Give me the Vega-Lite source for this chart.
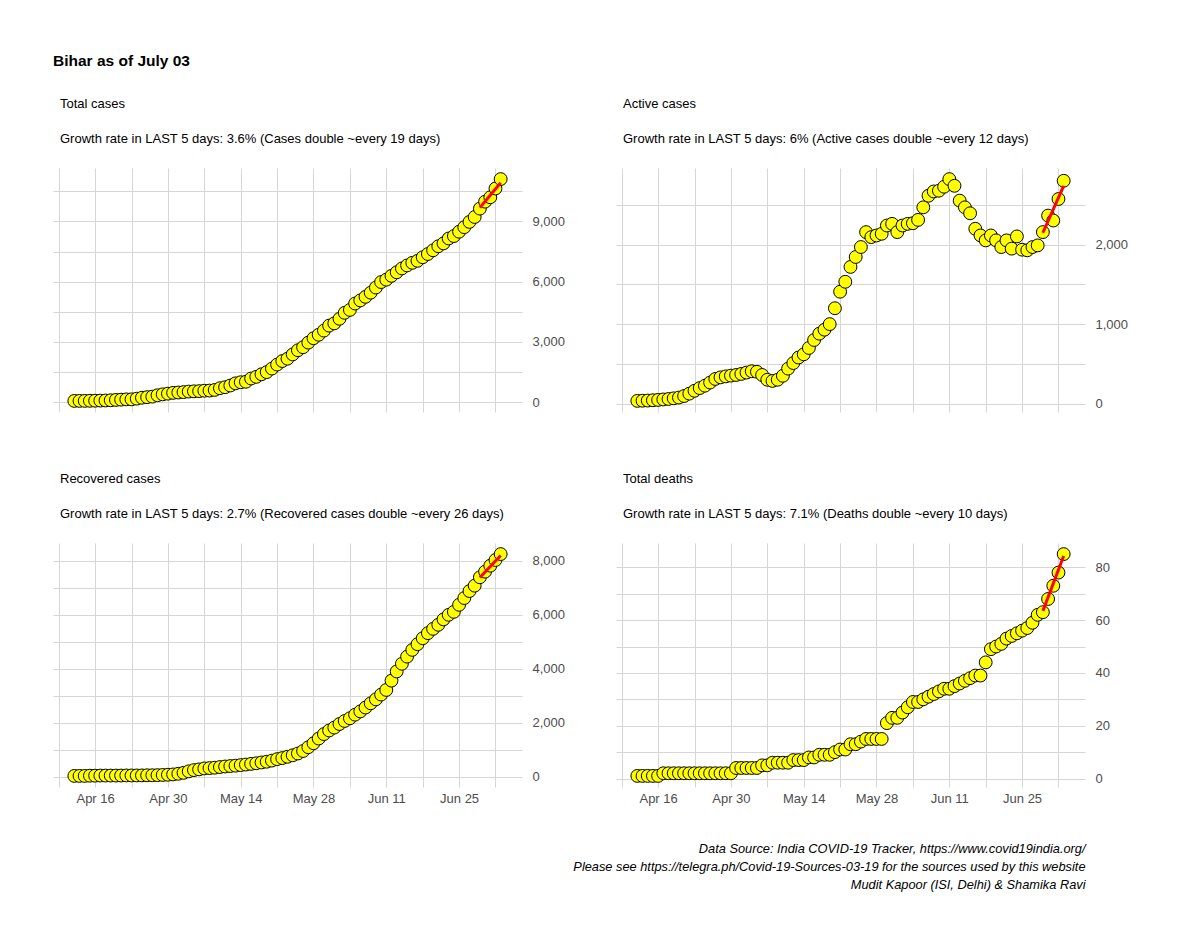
{
  "$schema": "https://vega.github.io/schema/vega-lite/v6.json",
  "background": "white",
  "padding": {"left": 53, "top": 53, "right": 10, "bottom": 10},
  "title": {"text": "Bihar as of July 03", "anchor": "start", "fontSize": 15.5, "fontWeight": "bold", "color": "black", "offset": 29, "dx": 0, "font": "Liberation Sans", "frame": "bounds"},
  "datasets": {
    "main": [
      {"date":"2020-04-12","total":64,"active":34,"recovered":29,"deaths":1},
      {"date":"2020-04-13","total":65,"active":36,"recovered":29,"deaths":1},
      {"date":"2020-04-14","total":66,"active":38,"recovered":29,"deaths":1},
      {"date":"2020-04-15","total":70,"active":42,"recovered":37,"deaths":1},
      {"date":"2020-04-16","total":74,"active":46,"recovered":37,"deaths":1},
      {"date":"2020-04-17","total":80,"active":52,"recovered":42,"deaths":2},
      {"date":"2020-04-18","total":85,"active":58,"recovered":42,"deaths":2},
      {"date":"2020-04-19","total":96,"active":66,"recovered":42,"deaths":2},
      {"date":"2020-04-20","total":113,"active":76,"recovered":42,"deaths":2},
      {"date":"2020-04-21","total":126,"active":95,"recovered":43,"deaths":2},
      {"date":"2020-04-22","total":141,"active":125,"recovered":46,"deaths":2},
      {"date":"2020-04-23","total":143,"active":161,"recovered":46,"deaths":2},
      {"date":"2020-04-24","total":176,"active":195,"recovered":46,"deaths":2},
      {"date":"2020-04-25","total":223,"active":225,"recovered":48,"deaths":2},
      {"date":"2020-04-26","total":251,"active":265,"recovered":53,"deaths":2},
      {"date":"2020-04-27","total":277,"active":310,"recovered":53,"deaths":2},
      {"date":"2020-04-28","total":346,"active":330,"recovered":57,"deaths":2},
      {"date":"2020-04-29","total":392,"active":342,"recovered":64,"deaths":2},
      {"date":"2020-04-30","total":425,"active":352,"recovered":72,"deaths":2},
      {"date":"2020-05-01","total":466,"active":360,"recovered":84,"deaths":4},
      {"date":"2020-05-02","total":482,"active":373,"recovered":108,"deaths":4},
      {"date":"2020-05-03","total":503,"active":390,"recovered":143,"deaths":4},
      {"date":"2020-05-04","total":529,"active":407,"recovered":199,"deaths":4},
      {"date":"2020-05-05","total":542,"active":400,"recovered":244,"deaths":4},
      {"date":"2020-05-06","total":550,"active":360,"recovered":271,"deaths":5},
      {"date":"2020-05-07","total":571,"active":300,"recovered":306,"deaths":5},
      {"date":"2020-05-08","total":579,"active":285,"recovered":319,"deaths":6},
      {"date":"2020-05-09","total":611,"active":300,"recovered":333,"deaths":6},
      {"date":"2020-05-10","total":696,"active":350,"recovered":358,"deaths":6},
      {"date":"2020-05-11","total":747,"active":440,"recovered":378,"deaths":6},
      {"date":"2020-05-12","total":831,"active":510,"recovered":395,"deaths":7},
      {"date":"2020-05-13","total":940,"active":580,"recovered":408,"deaths":7},
      {"date":"2020-05-14","total":994,"active":620,"recovered":430,"deaths":7},
      {"date":"2020-05-15","total":1018,"active":700,"recovered":450,"deaths":8},
      {"date":"2020-05-16","total":1179,"active":800,"recovered":475,"deaths":8},
      {"date":"2020-05-17","total":1262,"active":880,"recovered":498,"deaths":9},
      {"date":"2020-05-18","total":1391,"active":930,"recovered":527,"deaths":9},
      {"date":"2020-05-19","total":1498,"active":1000,"recovered":555,"deaths":9},
      {"date":"2020-05-20","total":1674,"active":1200,"recovered":597,"deaths":10},
      {"date":"2020-05-21","total":1873,"active":1408,"recovered":650,"deaths":11},
      {"date":"2020-05-22","total":2050,"active":1533,"recovered":690,"deaths":11},
      {"date":"2020-05-23","total":2166,"active":1720,"recovered":738,"deaths":13},
      {"date":"2020-05-24","total":2380,"active":1845,"recovered":794,"deaths":13},
      {"date":"2020-05-25","total":2587,"active":1970,"recovered":860,"deaths":14},
      {"date":"2020-05-26","total":2737,"active":2158,"recovered":952,"deaths":15},
      {"date":"2020-05-27","total":2968,"active":2095,"recovered":1092,"deaths":15},
      {"date":"2020-05-28","total":3185,"active":2116,"recovered":1240,"deaths":15},
      {"date":"2020-05-29","total":3359,"active":2137,"recovered":1414,"deaths":15},
      {"date":"2020-05-30","total":3565,"active":2241,"recovered":1579,"deaths":21},
      {"date":"2020-05-31","total":3815,"active":2262,"recovered":1712,"deaths":23},
      {"date":"2020-06-01","total":3926,"active":2158,"recovered":1820,"deaths":23},
      {"date":"2020-06-02","total":4155,"active":2241,"recovered":1952,"deaths":25},
      {"date":"2020-06-03","total":4452,"active":2262,"recovered":2065,"deaths":27},
      {"date":"2020-06-04","total":4596,"active":2270,"recovered":2166,"deaths":29},
      {"date":"2020-06-05","total":4915,"active":2312,"recovered":2298,"deaths":29},
      {"date":"2020-06-06","total":5070,"active":2470,"recovered":2420,"deaths":30},
      {"date":"2020-06-07","total":5247,"active":2616,"recovered":2563,"deaths":31},
      {"date":"2020-06-08","total":5455,"active":2670,"recovered":2720,"deaths":32},
      {"date":"2020-06-09","total":5710,"active":2679,"recovered":2867,"deaths":33},
      {"date":"2020-06-10","total":5983,"active":2729,"recovered":3043,"deaths":34},
      {"date":"2020-06-11","total":6103,"active":2825,"recovered":3215,"deaths":34},
      {"date":"2020-06-12","total":6293,"active":2741,"recovered":3560,"deaths":35},
      {"date":"2020-06-13","total":6470,"active":2554,"recovered":3900,"deaths":36},
      {"date":"2020-06-14","total":6662,"active":2470,"recovered":4185,"deaths":37},
      {"date":"2020-06-15","total":6810,"active":2395,"recovered":4450,"deaths":38},
      {"date":"2020-06-16","total":6942,"active":2200,"recovered":4700,"deaths":39},
      {"date":"2020-06-17","total":7040,"active":2116,"recovered":4910,"deaths":39},
      {"date":"2020-06-18","total":7218,"active":2054,"recovered":5130,"deaths":44},
      {"date":"2020-06-19","total":7380,"active":2116,"recovered":5320,"deaths":49},
      {"date":"2020-06-20","total":7564,"active":2054,"recovered":5480,"deaths":50},
      {"date":"2020-06-21","total":7766,"active":1970,"recovered":5630,"deaths":51},
      {"date":"2020-06-22","total":7910,"active":2054,"recovered":5830,"deaths":53},
      {"date":"2020-06-23","total":8153,"active":1950,"recovered":6000,"deaths":54},
      {"date":"2020-06-24","total":8273,"active":2104,"recovered":6110,"deaths":55},
      {"date":"2020-06-25","total":8490,"active":1937,"recovered":6370,"deaths":56},
      {"date":"2020-06-26","total":8716,"active":1929,"recovered":6620,"deaths":57},
      {"date":"2020-06-27","total":8979,"active":1970,"recovered":6880,"deaths":59},
      {"date":"2020-06-28","total":9224,"active":1991,"recovered":7080,"deaths":62},
      {"date":"2020-06-29","total":9640,"active":2158,"recovered":7390,"deaths":63},
      {"date":"2020-06-30","total":9987,"active":2366,"recovered":7600,"deaths":68},
      {"date":"2020-07-01","total":10205,"active":2304,"recovered":7820,"deaths":73},
      {"date":"2020-07-02","total":10643,"active":2575,"recovered":8030,"deaths":78},
      {"date":"2020-07-03","total":11111,"active":2804,"recovered":8250,"deaths":85}
    ],
    "fit": [
      {"date":"2020-06-29","total":9690,"active":2150,"recovered":7381,"deaths":63.5},
      {"date":"2020-07-03","total":10930,"active":2741,"recovered":8197,"deaths":84.3}
    ]
  },
  "columns": 2,
  "bounds": "flush",
  "spacing": {"row": 131, "column": 94},
  "concat": [
    {
      "width": 469, "height": 244,
      "title": {"text": "Total cases", "subtitle": "Growth rate in LAST 5 days: 3.6% (Cases double ~every 19 days)"},
      "layer": [
        {"data": {"name": "main"},
         "mark": {"type": "circle", "color": "#ffff00", "stroke": "#000000", "strokeWidth": 1, "size": 165, "opacity": 1},
         "encoding": {
           "x": {"field": "date", "type": "temporal",
                 "scale": {"type": "utc", "nice": false, "domain": [{"year":2020,"month":4,"date":7,"hours":21,"minutes":36,"utc":true},{"year":2020,"month":7,"date":7,"hours":2,"minutes":24,"utc":true}]},
                 "axis": {"title": null, "labels": false, "ticks": false, "domain": false, "format": "%b %d", "tickCount": 40,
                          "values": [{"year":2020,"month":4,"date":9,"utc":true},{"year":2020,"month":4,"date":16,"utc":true},{"year":2020,"month":4,"date":23,"utc":true},{"year":2020,"month":4,"date":30,"utc":true},{"year":2020,"month":5,"date":7,"utc":true},{"year":2020,"month":5,"date":14,"utc":true},{"year":2020,"month":5,"date":21,"utc":true},{"year":2020,"month":5,"date":28,"utc":true},{"year":2020,"month":6,"date":4,"utc":true},{"year":2020,"month":6,"date":11,"utc":true},{"year":2020,"month":6,"date":18,"utc":true},{"year":2020,"month":6,"date":25,"utc":true},{"year":2020,"month":7,"date":2,"utc":true}]}},
           "y": {"field": "total", "type": "quantitative",
                 "scale": {"domain": [-488, 11663], "nice": false, "zero": false},
                 "axis": {"orient": "right", "title": null, "values": [0,1500,3000,4500,6000,7500,9000,10500], "format": ",d", "tickCount": 40,
                          "labelExpr": "datum.value % 3000 === 0 ? datum.label : ''"}}
         }},
        {"data": {"name": "fit"},
         "mark": {"type": "line", "color": "#ff0000", "strokeWidth": 3},
         "encoding": {"x": {"field": "date", "type": "temporal"}, "y": {"field": "total", "type": "quantitative"}}}
      ]
    },
    {
      "width": 469, "height": 244,
      "title": {"text": "Active cases", "subtitle": "Growth rate in LAST 5 days: 6% (Active cases double ~every 12 days)"},
      "layer": [
        {"data": {"name": "main"},
         "mark": {"type": "circle", "color": "#ffff00", "stroke": "#000000", "strokeWidth": 1, "size": 165, "opacity": 1},
         "encoding": {
           "x": {"field": "date", "type": "temporal",
                 "scale": {"type": "utc", "nice": false, "domain": [{"year":2020,"month":4,"date":7,"hours":21,"minutes":36,"utc":true},{"year":2020,"month":7,"date":7,"hours":2,"minutes":24,"utc":true}]},
                 "axis": {"title": null, "labels": false, "ticks": false, "domain": false, "format": "%b %d", "tickCount": 40,
                          "values": [{"year":2020,"month":4,"date":9,"utc":true},{"year":2020,"month":4,"date":16,"utc":true},{"year":2020,"month":4,"date":23,"utc":true},{"year":2020,"month":4,"date":30,"utc":true},{"year":2020,"month":5,"date":7,"utc":true},{"year":2020,"month":5,"date":14,"utc":true},{"year":2020,"month":5,"date":21,"utc":true},{"year":2020,"month":5,"date":28,"utc":true},{"year":2020,"month":6,"date":4,"utc":true},{"year":2020,"month":6,"date":11,"utc":true},{"year":2020,"month":6,"date":18,"utc":true},{"year":2020,"month":6,"date":25,"utc":true},{"year":2020,"month":7,"date":2,"utc":true}]}},
           "y": {"field": "active", "type": "quantitative",
                 "scale": {"domain": [-106, 2965], "nice": false, "zero": false},
                 "axis": {"orient": "right", "title": null, "values": [0,500,1000,1500,2000,2500], "format": ",d", "tickCount": 40,
                          "labelExpr": "datum.value % 1000 === 0 ? datum.label : ''"}}
         }},
        {"data": {"name": "fit"},
         "mark": {"type": "line", "color": "#ff0000", "strokeWidth": 3},
         "encoding": {"x": {"field": "date", "type": "temporal"}, "y": {"field": "active", "type": "quantitative"}}}
      ]
    },
    {
      "width": 469, "height": 244,
      "title": {"text": "Recovered cases", "subtitle": "Growth rate in LAST 5 days: 2.7% (Recovered cases double ~every 26 days)"},
      "layer": [
        {"data": {"name": "main"},
         "mark": {"type": "circle", "color": "#ffff00", "stroke": "#000000", "strokeWidth": 1, "size": 165, "opacity": 1},
         "encoding": {
           "x": {"field": "date", "type": "temporal",
                 "scale": {"type": "utc", "nice": false, "domain": [{"year":2020,"month":4,"date":7,"hours":21,"minutes":36,"utc":true},{"year":2020,"month":7,"date":7,"hours":2,"minutes":24,"utc":true}]},
                 "axis": {"title": null, "ticks": false, "domain": false, "format": "%b %d", "labelPadding": 5, "labelOverlap": false, "tickCount": 40,
                          "values": [{"year":2020,"month":4,"date":9,"utc":true},{"year":2020,"month":4,"date":16,"utc":true},{"year":2020,"month":4,"date":23,"utc":true},{"year":2020,"month":4,"date":30,"utc":true},{"year":2020,"month":5,"date":7,"utc":true},{"year":2020,"month":5,"date":14,"utc":true},{"year":2020,"month":5,"date":21,"utc":true},{"year":2020,"month":5,"date":28,"utc":true},{"year":2020,"month":6,"date":4,"utc":true},{"year":2020,"month":6,"date":11,"utc":true},{"year":2020,"month":6,"date":18,"utc":true},{"year":2020,"month":6,"date":25,"utc":true},{"year":2020,"month":7,"date":2,"utc":true}],
                          "labelExpr": "indexof(['Apr 16','Apr 30','May 14','May 28','Jun 11','Jun 25'], datum.label) >= 0 ? datum.label : ''"}},
           "y": {"field": "recovered", "type": "quantitative",
                 "scale": {"domain": [-382, 8661], "nice": false, "zero": false},
                 "axis": {"orient": "right", "title": null, "values": [0,1000,2000,3000,4000,5000,6000,7000,8000], "format": ",d", "tickCount": 40,
                          "labelExpr": "datum.value % 2000 === 0 ? datum.label : ''"}}
         }},
        {"data": {"name": "fit"},
         "mark": {"type": "line", "color": "#ff0000", "strokeWidth": 3},
         "encoding": {"x": {"field": "date", "type": "temporal"}, "y": {"field": "recovered", "type": "quantitative"}}}
      ]
    },
    {
      "width": 469, "height": 244,
      "title": {"text": "Total deaths", "subtitle": "Growth rate in LAST 5 days: 7.1% (Deaths double ~every 10 days)"},
      "layer": [
        {"data": {"name": "main"},
         "mark": {"type": "circle", "color": "#ffff00", "stroke": "#000000", "strokeWidth": 1, "size": 165, "opacity": 1},
         "encoding": {
           "x": {"field": "date", "type": "temporal",
                 "scale": {"type": "utc", "nice": false, "domain": [{"year":2020,"month":4,"date":7,"hours":21,"minutes":36,"utc":true},{"year":2020,"month":7,"date":7,"hours":2,"minutes":24,"utc":true}]},
                 "axis": {"ticks": false, "domain": false, "format": "%b %d", "labelPadding": 5, "labelOverlap": false, "tickCount": 40,
                          "title": ["Data Source: India COVID-19 Tracker, https://www.covid19india.org/", "Please see https://telegra.ph/Covid-19-Sources-03-19 for the sources used by this website", "Mudit Kapoor (ISI, Delhi) & Shamika Ravi"],
                          "titleAnchor": "end", "titleAlign": "right", "titleFontStyle": "italic", "titleFontWeight": "normal", "titleFontSize": 12.8, "titleColor": "black", "titlePadding": 37, "titleLineHeight": 18,
                          "values": [{"year":2020,"month":4,"date":9,"utc":true},{"year":2020,"month":4,"date":16,"utc":true},{"year":2020,"month":4,"date":23,"utc":true},{"year":2020,"month":4,"date":30,"utc":true},{"year":2020,"month":5,"date":7,"utc":true},{"year":2020,"month":5,"date":14,"utc":true},{"year":2020,"month":5,"date":21,"utc":true},{"year":2020,"month":5,"date":28,"utc":true},{"year":2020,"month":6,"date":4,"utc":true},{"year":2020,"month":6,"date":11,"utc":true},{"year":2020,"month":6,"date":18,"utc":true},{"year":2020,"month":6,"date":25,"utc":true},{"year":2020,"month":7,"date":2,"utc":true}],
                          "labelExpr": "indexof(['Apr 16','Apr 30','May 14','May 28','Jun 11','Jun 25'], datum.label) >= 0 ? datum.label : ''"}},
           "y": {"field": "deaths", "type": "quantitative",
                 "scale": {"domain": [-3.2, 89.2], "nice": false, "zero": false},
                 "axis": {"orient": "right", "title": null, "values": [0,10,20,30,40,50,60,70,80], "format": ",d", "tickCount": 40,
                          "labelExpr": "datum.value % 20 === 0 ? datum.label : ''"}}
         }},
        {"data": {"name": "fit"},
         "mark": {"type": "line", "color": "#ff0000", "strokeWidth": 3},
         "encoding": {"x": {"field": "date", "type": "temporal"}, "y": {"field": "deaths", "type": "quantitative"}}}
      ]
    }
  ],
  "config": {
    "font": "Liberation Sans",
    "view": {"stroke": null},
    "axis": {"labelFont": "Liberation Sans", "labelFontSize": 13, "labelColor": "#4d4d4d", "ticks": false, "domain": false, "gridColor": "#d6d6d6", "gridWidth": 1, "labelPadding": 10, "titleFont": "Liberation Sans"},
    "title": {"anchor": "start", "frame": "group", "dx": 7, "offset": 22, "subtitlePadding": 22, "fontSize": 13, "subtitleFontSize": 13, "fontWeight": "normal", "color": "black", "subtitleColor": "black", "font": "Liberation Sans", "subtitleFont": "Liberation Sans"}
  }
}
